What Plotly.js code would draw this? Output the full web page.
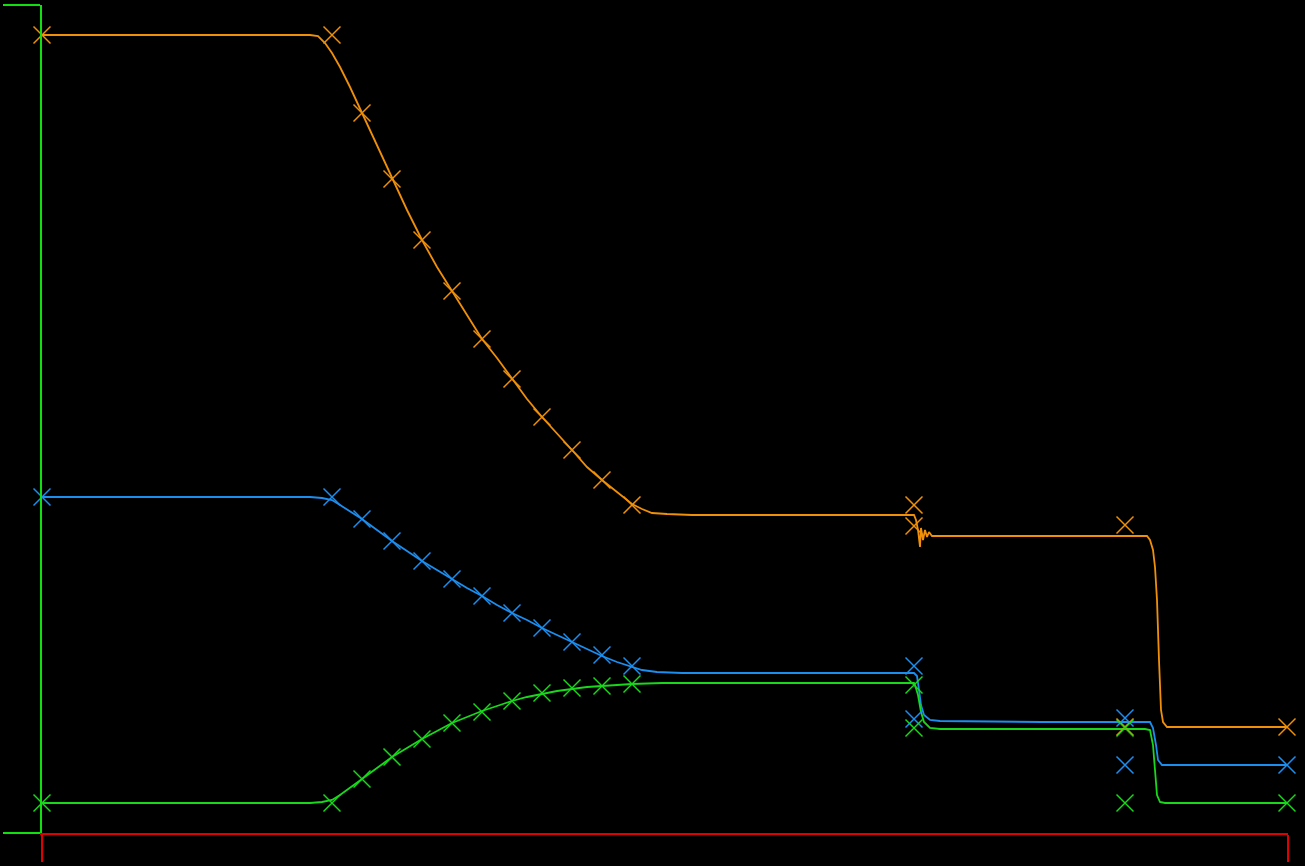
<!DOCTYPE html>
<html>
<head>
<meta charset="utf-8">
<script src="https://cdn.plot.ly/plotly-3.0.1.min.js"></script>
<style>html,body{margin:0;padding:0;background:#000;}#chart{width:1305px;height:866px;}</style>
</head>
<body>
<div id="chart"></div>
<script>
// Simulated profiles (lines)
const orangeLineX = [0,268,276,283,290,298,308,320,335,350,365,380,395,410,425,440,455,470,485,500,515,530,545,560,575,590,600,610,625,650,760,872,874,876,878,879,881,883,885,887,890,900,1000,1105,1108,1111,1113,1115,1117,1119,1121,1125,1246];
const orangeLineY = [798,798,797,790,780,766,746,720,687,654,623,593,566,542,518,494,475,454,434,416,400,383,366,353,341,329,324,320,319,318,318,318,313,303,286,305,293,303,296,301,297,297,297,297,293,283,266,233,173,123,111,106,106];

const blueLineX = [0,268,280,290,298,308,320,335,350,365,380,395,410,425,440,455,470,485,500,515,530,545,560,575,590,600,615,640,872,875,877,879,882,888,898,1000,1108,1111,1114,1116,1120,1246];
const blueLineY = [336,336,335,333,328,322,314,303,292,282,272,263,254,245,237,228,220,213,205,198,191,184,177,171,166,163,161,160,160,157,143,128,118,113,112,111,111,105,88,73,68,68];

const greenLineX = [0,268,280,290,298,308,320,335,350,365,380,395,410,425,440,455,470,485,500,515,530,545,560,575,590,620,700,872,873,876,879,882,888,898,1000,1103,1108,1111,1113,1115,1118,1123,1246];
const greenLineY = [30,30,31,33,38,45,54,65,76,85,94,102,110,116,122,127,132,136,139,142,144,146,147,148,149,150,150,150,148,138,121,111,105,104,104,104,103,88,63,38,31,30,30];

// Reference (exact) values (markers)
const markX = [0,290,320,350,380,410,440,470,500,530,560,590,872,872,1083,1083,1245];
const orangeMarkY = [798,798,720,654,593,542,494,454,416,383,353,328,328,307,308,106,106];
const blueMarkY   = [336,336,314,292,272,254,237,220,205,191,178,167,167,114,115,68,68];
const greenMarkY  = [30,30,54,76,94,110,121,132,140,145,147,149,148,105,105,30,30];

const cOrange = '#f0900a', cBlue = '#1c8ef0', cGreen = '#19d81c';

function lineTrace(x, y, c) {
  return {x: x, y: y, type: 'scatter', mode: 'lines', line: {color: c, width: 1.8}, cliponaxis: false, hoverinfo: 'skip'};
}
function markTrace(x, y, c) {
  return {x: x, y: y, type: 'scatter', mode: 'markers', cliponaxis: false,
    marker: {symbol: 'x-thin', size: 17, color: c, line: {color: c, width: 1.5}}, hoverinfo: 'skip'};
}

const data = [
  lineTrace(orangeLineX, orangeLineY, cOrange),
  lineTrace(blueLineX, blueLineY, cBlue),
  lineTrace(greenLineX, greenLineY, cGreen),
  markTrace(markX, orangeMarkY, cOrange),
  markTrace(markX, blueMarkY, cBlue),
  markTrace(markX, greenMarkY, cGreen)
];

const layout = {
  width: 1305, height: 866,
  paper_bgcolor: '#000', plot_bgcolor: '#000',
  showlegend: false,
  margin: {l: 42, r: 17, t: 5, b: 33, pad: 0},
  xaxis: {range: [0, 1246], showgrid: false, zeroline: false, showline: true, linecolor: '#e00000', linewidth: 2,
    ticks: 'outside', tickvals: [0, 1246], ticklen: 27, tickwidth: 2, tickcolor: '#e00000', showticklabels: false},
  yaxis: {range: [0, 828], showgrid: false, zeroline: false, showline: true, linecolor: '#10e010', linewidth: 2,
    ticks: 'outside', tickvals: [0, 828], ticklen: 37, tickwidth: 2, tickcolor: '#10e010', showticklabels: false}
};

Plotly.newPlot('chart', data, layout, {displayModeBar: false, staticPlot: true});
</script>
</body>
</html>
